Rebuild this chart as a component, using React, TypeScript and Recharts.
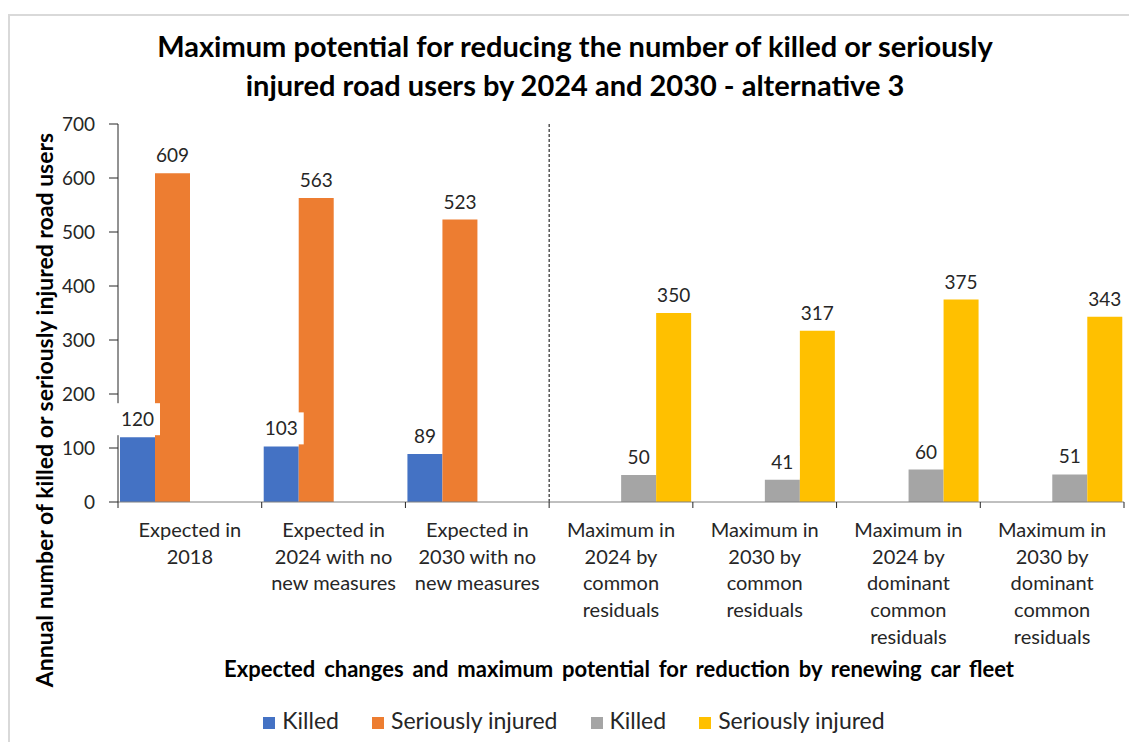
import React from "react";
import {
  BarChart,
  Bar,
  XAxis,
  YAxis,
  LabelList,
  Legend,
  ReferenceLine,
} from "recharts";

// categories, with the line breaks the original axis uses
const categories = [
  "Expected in\n2018",
  "Expected in\n2024 with no\nnew measures",
  "Expected in\n2030 with no\nnew measures",
  "Maximum in\n2024 by\ncommon\nresiduals",
  "Maximum in\n2030 by\ncommon\nresiduals",
  "Maximum in\n2024 by\ndominant\ncommon\nresiduals",
  "Maximum in\n2030 by\ndominant\ncommon\nresiduals",
];

const expectedKilled = [120, 103, 89, null, null, null, null];
const expectedInjured = [609, 563, 523, null, null, null, null];
const maxKilled = [null, null, null, 50, 41, 60, 51];
const maxInjured = [null, null, null, 350, 317, 375, 343];

const yTicks = [0, 100, 200, 300, 400, 500, 600, 700];

// keys are prefixed so the legend (sorted by dataKey) keeps series order
const data = categories.map((name, i) => ({
  name,
  s1Killed: expectedKilled[i],
  s2Injured: expectedInjured[i],
  s3Killed: maxKilled[i],
  s4Injured: maxInjured[i],
}));

const FONT = "Lato, 'Open Sans', sans-serif";
const TEXT = "#262626";

const CategoryTick = (props: any) => {
  const { x, y, payload, index } = props;
  const half = payload?.offset ?? 1006 / categories.length / 2;
  const lines = String(payload.value).split("\n");
  return (
    <g>
      <line x1={x - half} x2={x - half} y1={y - 8} y2={y - 2} stroke="#262626" />
      {index === categories.length - 1 && (
        <line x1={x + half} x2={x + half} y1={y - 8} y2={y - 2} stroke="#262626" />
      )}
      <text x={x} y={y + 27} textAnchor="middle" fontFamily={FONT} fontSize={20} fill={TEXT}>
        {lines.map((l, i) => (
          <tspan key={i} x={x} dy={i === 0 ? 0 : 26.7}>
            {l}
          </tspan>
        ))}
      </text>
    </g>
  );
};

const ValueLabel = (props: any) => {
  const { x, y, width, value } = props;
  if (value === null || value === undefined) return null;
  const cx = x + width / 2;
  const cy = y - 18;
  const w = String(value).length * 11 + 12;
  return (
    <g>
      <rect x={cx - w / 2} y={cy - 16} width={w} height={32} fill="#fff" />
      <text x={cx} y={cy + 7} textAnchor="middle" fontFamily={FONT} fontSize={19} fill={TEXT}>
        {value}
      </text>
    </g>
  );
};

export default function App() {
  return (
    <div
      style={{
        position: "absolute",
        left: 0,
        top: 0,
        width: 1129,
        height: 742,
        overflow: "hidden",
        background: "#fff",
        fontFamily: FONT,
      }}
    >
      <div
        style={{
          position: "absolute",
          left: 8,
          top: 14,
          width: 1300,
          height: 900,
          borderLeft: "2px solid #d9d9d9",
          borderTop: "2px solid #d9d9d9",
        }}
      />
      <div
        style={{
          position: "absolute",
          left: 575,
          top: 26,
          transform: "translateX(-50%)",
          textAlign: "center",
          fontWeight: 700,
          fontSize: 29,
          lineHeight: "39px",
          color: "#000",
          whiteSpace: "nowrap",
        }}
      >
        <div>Maximum potential for reducing the number of killed or seriously</div>
        <div>injured road users by 2024 and 2030 - alternative 3</div>
      </div>
      <div
        style={{
          position: "absolute",
          left: 44,
          top: 410,
          transform: "translate(-50%, -50%) rotate(-90deg)",
          fontWeight: 700,
          fontSize: 23,
          color: "#000",
          whiteSpace: "nowrap",
        }}
      >
        Annual number of killed or seriously injured road users
      </div>
      <div
        style={{
          position: "absolute",
          left: 619,
          top: 668,
          transform: "translate(-50%, -50%)",
          fontWeight: 700,
          fontSize: 22,
          wordSpacing: 3.5,
          color: "#000",
          whiteSpace: "nowrap",
        }}
      >
        Expected changes and maximum potential for reduction by renewing car fleet
      </div>
      <div style={{ position: "absolute", left: 0, top: 0 }}>
        <BarChart
          width={1129}
          height={742}
          data={data}
          margin={{ top: 124, right: 5, left: 0, bottom: 40 }}
          barCategoryGap={2}
          barGap={0}
        >
          <XAxis
            dataKey="name"
            height={200}
            interval={0}
            tickLine={false}
            stroke="#808080"
            tick={<CategoryTick />}
          />
          <YAxis
            width={118}
            domain={[0, 700]}
            ticks={yTicks}
            tickSize={9}
            tickMargin={14}
            stroke="#262626"
            tick={{ fontFamily: FONT, fontSize: 19, fill: TEXT }}
          />
          <ReferenceLine
            x={categories[3]}
            position="start"
            stroke="#000"
            strokeDasharray="3 2"
          />
          <Bar dataKey="s1Killed" name="Killed" fill="#4472C4" isAnimationActive={false}>
            <LabelList dataKey="s1Killed" content={<ValueLabel />} />
          </Bar>
          <Bar dataKey="s2Injured" name="Seriously injured" fill="#ED7D31" isAnimationActive={false}>
            <LabelList dataKey="s2Injured" content={<ValueLabel />} />
          </Bar>
          <Bar dataKey="s3Killed" name="Killed" fill="#A5A5A5" isAnimationActive={false}>
            <LabelList dataKey="s3Killed" content={<ValueLabel />} />
          </Bar>
          <Bar dataKey="s4Injured" name="Seriously injured" fill="#FFC000" isAnimationActive={false}>
            <LabelList dataKey="s4Injured" content={<ValueLabel />} />
          </Bar>
          <Legend
            layout="horizontal"
            align="center"
            verticalAlign="middle"
            itemSorter="dataKey"
            iconType="square"
            iconSize={12}
            wrapperStyle={{ top: 706, left: 26, width: 1129, fontFamily: FONT, fontSize: 23 }}
            formatter={(value: string) => (
              <span style={{ color: TEXT, marginLeft: 3, marginRight: 23 }}>{value}</span>
            )}
          />
        </BarChart>
      </div>
    </div>
  );
}
